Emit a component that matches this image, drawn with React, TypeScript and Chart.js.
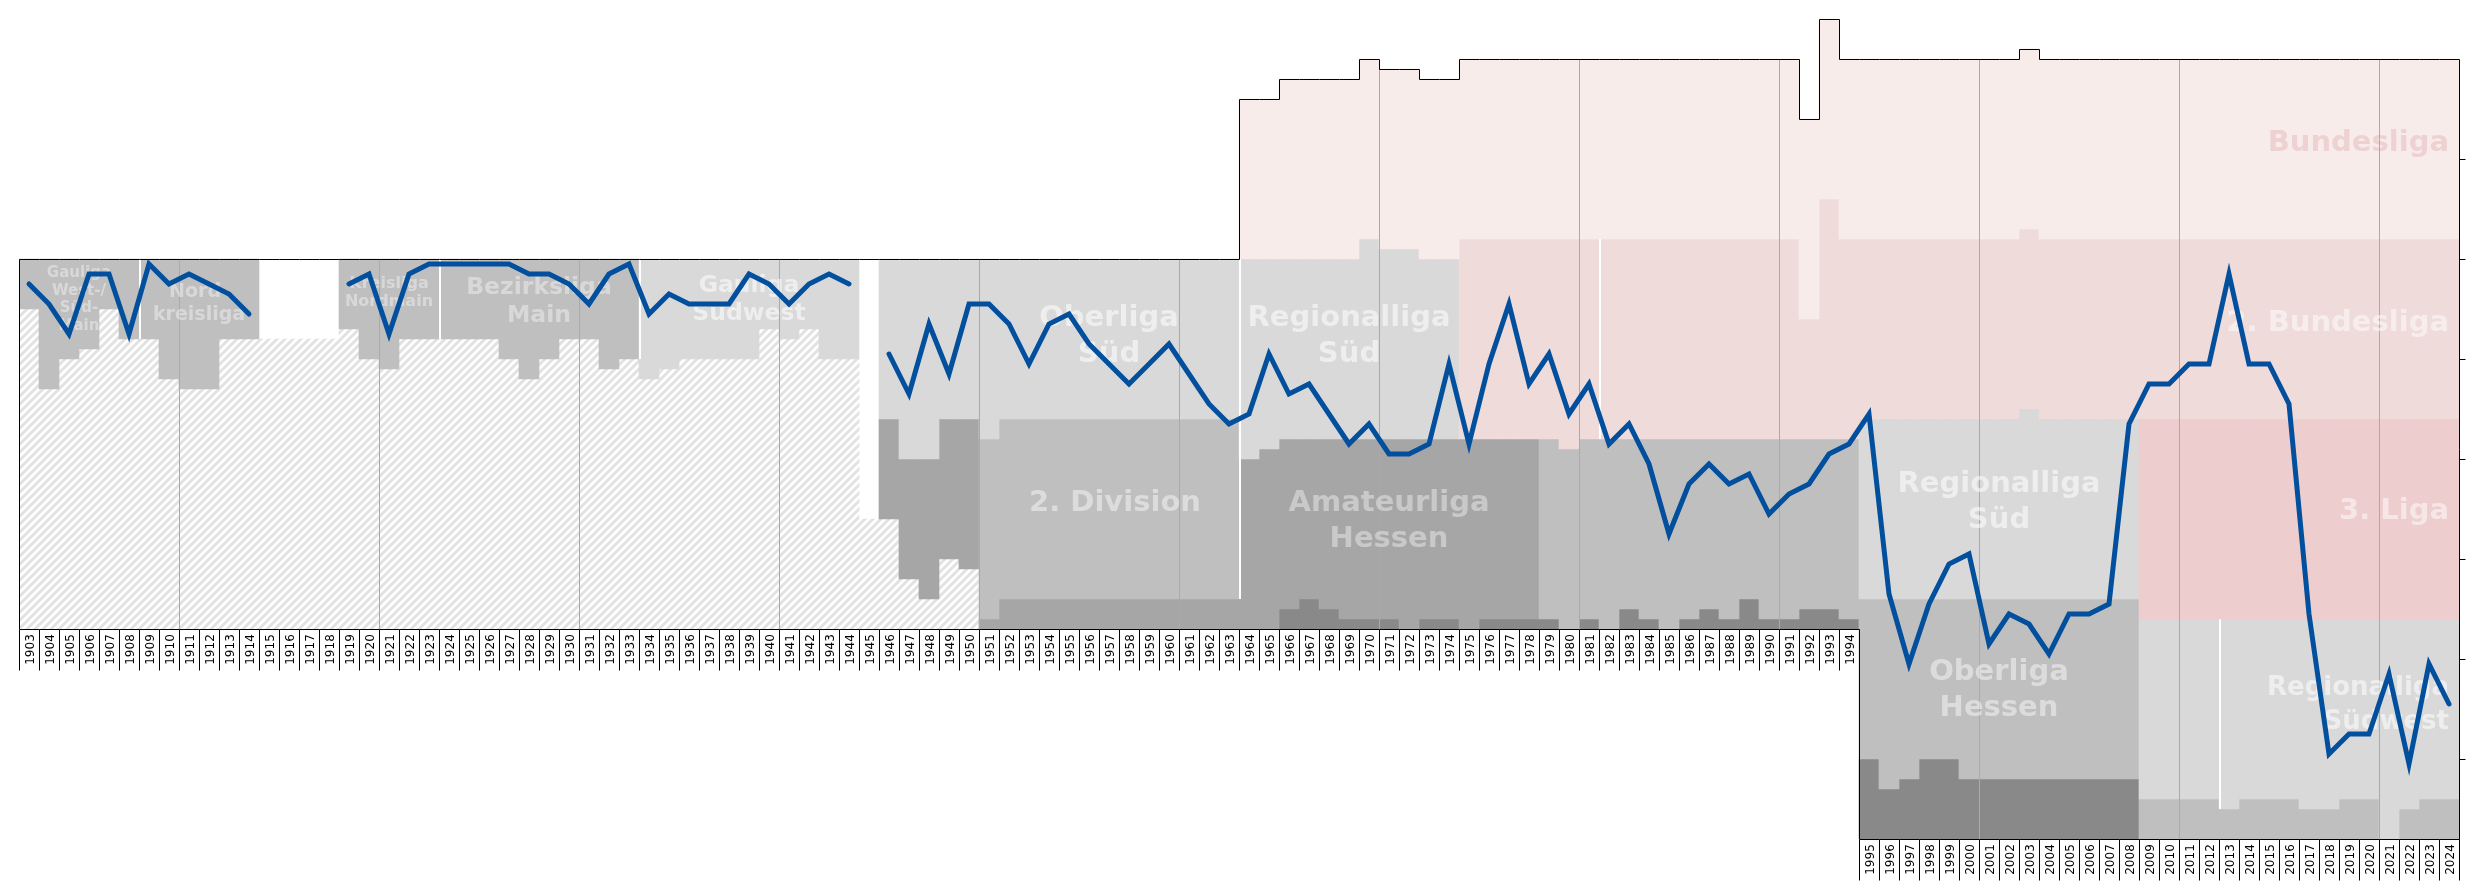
import React, { useEffect, useRef } from 'react';
import { Chart, registerables } from 'chart.js';

Chart.register(...registerables);

const N = null;

// Seasons (x categories)
const years = [
  1903, 1904, 1905, 1906, 1907, 1908, 1909, 1910, 1911, 1912,
  1913, 1914, 1915, 1916, 1917, 1918, 1919, 1920, 1921, 1922,
  1923, 1924, 1925, 1926, 1927, 1928, 1929, 1930, 1931, 1932,
  1933, 1934, 1935, 1936, 1937, 1938, 1939, 1940, 1941, 1942,
  1943, 1944, 1945, 1946, 1947, 1948, 1949, 1950, 1951, 1952,
  1953, 1954, 1955, 1956, 1957, 1958, 1959, 1960, 1961, 1962,
  1963, 1964, 1965, 1966, 1967, 1968, 1969, 1970, 1971, 1972,
  1973, 1974, 1975, 1976, 1977, 1978, 1979, 1980, 1981, 1982,
  1983, 1984, 1985, 1986, 1987, 1988, 1989, 1990, 1991, 1992,
  1993, 1994, 1995, 1996, 1997, 1998, 1999, 2000, 2001, 2002,
  2003, 2004, 2005, 2006, 2007, 2008, 2009, 2010, 2011, 2012,
  2013, 2014, 2015, 2016, 2017, 2018, 2019, 2020, 2021, 2022,
  2023, 2024,
];

// Overall league position (blue line)
const position = [
  22.5, 24.5, 27.5, 21.5, 21.5, 27.5, 20.5, 22.5, 21.5, 22.5,
  23.5, 25.5, N, N, N, N, 22.5, 21.5, 27.5, 21.5,
  20.5, 20.5, 20.5, 20.5, 20.5, 21.5, 21.5, 22.5, 24.5, 21.5,
  20.5, 25.5, 23.5, 24.5, 24.5, 24.5, 21.5, 22.5, 24.5, 22.5,
  21.5, 22.5, N, 29.5, 33.5, 26.5, 31.5, 24.5, 24.5, 26.5,
  30.5, 26.5, 25.5, 28.5, 30.5, 32.5, 30.5, 28.5, 31.5, 34.5,
  36.5, 35.5, 29.5, 33.5, 32.5, 35.5, 38.5, 36.5, 39.5, 39.5,
  38.5, 30.5, 38.5, 30.5, 24.5, 32.5, 29.5, 35.5, 32.5, 38.5,
  36.5, 40.5, 47.5, 42.5, 40.5, 42.5, 41.5, 45.5, 43.5, 42.5,
  39.5, 38.5, 35.5, 53.5, 60.5, 54.5, 50.5, 49.5, 58.5, 55.5,
  56.5, 59.5, 55.5, 55.5, 54.5, 36.5, 32.5, 32.5, 30.5, 30.5,
  21.5, 30.5, 30.5, 34.5, 55.5, 69.5, 67.5, 67.5, 61.5, 70.5,
  60.5, 64.5,
];

// Top of the highest league band per season
const bandTop = [
  20, 20, 20, 20, 20, 20, 20, 20, 20, 20,
  20, 20, 20, 20, 20, 20, 20, 20, 20, 20,
  20, 20, 20, 20, 20, 20, 20, 20, 20, 20,
  20, 20, 20, 20, 20, 20, 20, 20, 20, 20,
  20, 20, 20, 20, 20, 20, 20, 20, 20, 20,
  20, 20, 20, 20, 20, 20, 20, 20, 20, 20,
  20, 4, 4, 2, 2, 2, 2, 0, 1, 1,
  2, 2, 0, 0, 0, 0, 0, 0, 0, 0,
  0, 0, 0, 0, 0, 0, 0, 0, 0, 6,
  -4, 0, 0, 0, 0, 0, 0, 0, 0, 0,
  -1, 0, 0, 0, 0, 0, 0, 0, 0, 0,
  0, 0, 0, 0, 0, 0, 0, 0, 0, 0,
  0, 0,
];

// Bottom of each tier band per season
const tier1Bottom = [
  25, 33, 30, 29, 25, 28, 28, 32, 33, 33,
  28, 28, 28, 28, 28, 28, 27, 30, 31, 28,
  28, 28, 28, 28, 30, 32, 30, 28, 28, 31,
  30, 32, 31, 30, 30, 30, 30, 27, 28, 27,
  30, 30, 46, 36, 40, 40, 36, 36, 38, 36,
  36, 36, 36, 36, 36, 36, 36, 36, 36, 36,
  36, 20, 20, 20, 20, 20, 20, 18, 19, 19,
  20, 20, 18, 18, 18, 18, 18, 18, 18, 18,
  18, 18, 18, 18, 18, 18, 18, 18, 18, 26,
  14, 18, 18, 18, 18, 18, 18, 18, 18, 18,
  17, 18, 18, 18, 18, 18, 18, 18, 18, 18,
  18, 18, 18, 18, 18, 18, 18, 18, 18, 18,
  18, 18,
];

const tier2Bottom = [
  57, 57, 57, 57, 57, 57, 57, 57, 57, 57,
  57, 57, 57, 57, 57, 57, 57, 57, 57, 57,
  57, 57, 57, 57, 57, 57, 57, 57, 57, 57,
  57, 57, 57, 57, 57, 57, 57, 57, 57, 57,
  57, 57, 57, 46, 52, 54, 50, 51, 56, 54,
  54, 54, 54, 54, 54, 54, 54, 54, 54, 54,
  54, 40, 39, 38, 38, 38, 38, 38, 38, 38,
  38, 38, 38, 38, 38, 38, 38, 39, 38, 38,
  38, 38, 38, 38, 38, 38, 38, 38, 38, 38,
  38, 38, 36, 36, 36, 36, 36, 36, 36, 36,
  35, 36, 36, 36, 36, 36, 36, 36, 36, 36,
  36, 36, 36, 36, 36, 36, 36, 36, 36, 36,
  36, 36,
];

const tier3Bottom = [
  N, N, N, N, N, N, N, N, N, N,
  N, N, N, N, N, N, N, N, N, N,
  N, N, N, N, N, N, N, N, N, N,
  N, N, N, N, N, N, N, N, N, N,
  N, N, N, 57, 57, 57, 57, 57, 57, 57,
  57, 57, 57, 57, 57, 57, 57, 57, 57, 57,
  57, 57, 57, 55, 54, 55, 56, 56, 56, 57,
  56, 56, 57, 56, 56, 56, 56, 57, 56, 57,
  55, 56, 57, 56, 55, 56, 54, 56, 56, 55,
  55, 56, 54, 54, 54, 54, 54, 54, 54, 54,
  54, 54, 54, 54, 54, 54, 56, 56, 56, 56,
  56, 56, 56, 56, 56, 56, 56, 56, 56, 56,
  56, 56,
];

const tier4Bottom = [
  N, N, N, N, N, N, N, N, N, N,
  N, N, N, N, N, N, N, N, N, N,
  N, N, N, N, N, N, N, N, N, N,
  N, N, N, N, N, N, N, N, N, N,
  N, N, N, N, N, N, N, N, N, N,
  N, N, N, N, N, N, N, N, N, N,
  N, N, N, 57, 57, 57, 57, 57, 57, N,
  57, 57, N, 57, 57, 57, 57, N, 57, N,
  57, 57, N, 57, 57, 57, 57, 57, 57, 57,
  57, 57, 70, 73, 72, 70, 70, 72, 72, 72,
  72, 72, 72, 72, 72, 72, 74, 74, 74, 74,
  75, 74, 74, 74, 75, 75, 74, 74, 78, 75,
  74, 74,
];

const tier5Bottom = [
  N, N, N, N, N, N, N, N, N, N,
  N, N, N, N, N, N, N, N, N, N,
  N, N, N, N, N, N, N, N, N, N,
  N, N, N, N, N, N, N, N, N, N,
  N, N, N, N, N, N, N, N, N, N,
  N, N, N, N, N, N, N, N, N, N,
  N, N, N, N, N, N, N, N, N, N,
  N, N, N, N, N, N, N, N, N, N,
  N, N, N, N, N, N, N, N, N, N,
  N, N, 78, 78, 78, 78, 78, 78, 78, 78,
  78, 78, 78, 78, 78, 78, 78, 78, 78, 78,
  78, 78, 78, 78, 78, 78, 78, 78, N, 78,
  78, 78,
];

// League colour keys for each tier, by season span
const tier1Leagues = [[1903, 1914, 'G2'], [1915, 1918, 'none'], [1919, 1933, 'G2'], [1934, 1944, 'G1'], [1945, 1945, 'none'], [1946, 1963, 'G1'], [1964, 2024, 'BL']];
const tier2Leagues = [[1903, 1945, 'H'], [1946, 1950, 'G3'], [1951, 1963, 'G2'], [1964, 1974, 'G1'], [1975, 2024, 'BL2']];
const tier3Leagues = [[1946, 1950, 'H'], [1951, 1978, 'G3'], [1979, 1994, 'G2'], [1995, 2008, 'G1'], [2009, 2024, 'L3']];
const tier4Leagues = [[1964, 1994, 'G4'], [1995, 2008, 'G2'], [2009, 2024, 'G1']];
const tier5Leagues = [[1995, 2008, 'G4'], [2009, 2024, 'G2']];

const gridYears = [1911, 1921, 1931, 1941, 1951, 1961, 1971, 1981, 1991, 2001, 2011, 2021];
const yTicks = [10, 20, 30, 40, 50, 60, 70];

const separators = [
  { year: 1909, from: 20, to: 28 },
  { year: 1924, from: 20, to: 28 },
  { year: 1934, from: 20, to: 30 },
  { year: 1964, from: 20, to: 54 },
  { year: 1982, from: 18, to: 38 },
  { year: 2013, from: 56, to: 75 },
];

const leagueLabels = [
  { lines: ['Gauliga', 'West-/', 'Süd-', 'Main'], year: 1905.5, base: 21.8, step: 1.77, size: 15, align: 'center', alpha: 0.4 },
  { lines: ['Nord-', 'kreisliga'], year: 1911.5, base: 23.8, step: 2.33, size: 19, align: 'center', alpha: 0.4 },
  { lines: ['Kreisliga', 'Nordmain'], year: 1921, base: 22.85, step: 1.8, size: 16, align: 'center', alpha: 0.4 },
  { lines: ['Bezirksliga', 'Main'], year: 1928.5, base: 23.45, step: 2.84, size: 23.5, align: 'center', alpha: 0.4 },
  { lines: ['Gauliga', 'Südwest'], year: 1939, base: 23.3, step: 2.83, size: 23.5, align: 'center', alpha: 0.55 },
  { lines: ['Oberliga', 'Süd'], year: 1957, base: 26.7, step: 3.55, size: 29, align: 'center', alpha: 0.55 },
  { lines: ['2. Division'], year: 1957.3, base: 45.2, step: 3.55, size: 29, align: 'center', alpha: 0.45 },
  { lines: ['Regionalliga', 'Süd'], year: 1969, base: 26.7, step: 3.6, size: 29, align: 'center', alpha: 0.55 },
  { lines: ['Amateurliga', 'Hessen'], year: 1971, base: 45.2, step: 3.55, size: 29, align: 'center', alpha: 0.4 },
  { lines: ['Regionalliga', 'Süd'], year: 2001.5, base: 43.25, step: 3.62, size: 29, align: 'center', alpha: 0.55 },
  { lines: ['Oberliga', 'Hessen'], year: 2001.5, base: 62.05, step: 3.65, size: 29, align: 'center', alpha: 0.45 },
  { lines: ['Bundesliga'], year: 2024, base: 9.2, step: 3.5, size: 29, align: 'right', color: 'rgba(222,160,160,0.35)' },
  { lines: ['2. Bundesliga'], year: 2024, base: 27.2, step: 3.5, size: 29, align: 'right', alpha: 0.5 },
  { lines: ['3. Liga'], year: 2024, base: 46.0, step: 3.5, size: 29, align: 'right', alpha: 0.5 },
  { lines: ['Regionalliga', 'Südwest'], year: 2024, base: 63.6, step: 3.4, size: 26, align: 'right', alpha: 0.55 },
];

const palette: any = {
  G1: '#d9d9d9',
  G2: '#bfbfbf',
  G3: '#a6a6a6',
  G4: '#898989',
  BL: '#f8eceb',
  BL2: '#f0dbdb',
  L3: '#edcdcd',
  none: 'rgba(0,0,0,0)',
};
const LINE_COLOR = '#024f9d';

function makeHatch(): any {
  const c = document.createElement('canvas');
  c.width = 8;
  c.height = 8;
  const g = c.getContext('2d')!;
  g.fillStyle = '#ffffff';
  g.fillRect(0, 0, 8, 8);
  g.strokeStyle = '#e2e2e2';
  g.lineWidth = 3;
  g.beginPath();
  g.moveTo(0, 8); g.lineTo(8, 0);
  g.moveTo(-4, 4); g.lineTo(4, -4);
  g.moveTo(4, 12); g.lineTo(12, 4);
  g.stroke();
  return g.createPattern(c, 'repeat');
}

function spanKey(spans: any[], year: number) {
  for (const s of spans) if (year >= s[0] && year <= s[1]) return s[2];
  return 'none';
}

const tierBottoms = [tier1Bottom, tier2Bottom, tier3Bottom, tier4Bottom, tier5Bottom];
const tierLeagues = [tier1Leagues, tier2Leagues, tier3Leagues, tier4Leagues, tier5Leagues];

function floorOf(i: number) {
  let f = 0;
  for (const b of tierBottoms) if (b[i] != null && (b[i] as number) > f) f = b[i] as number;
  return f;
}

const decor = {
  id: 'decor',
  beforeDatasetDraw(chart: any, args: any) {
    if (args.index !== 0) return;
    const ctx = chart.ctx;
    const xs = chart.scales.x;
    const ys = chart.scales.y;
    const half = (xs.getPixelForValue(1) - xs.getPixelForValue(0)) / 2;
    const left = (i: number) => Math.round(xs.getPixelForValue(i) - half);
    ctx.save();
    // decade grid lines
    ctx.strokeStyle = '#aaaaaa';
    ctx.lineWidth = 1;
    gridYears.forEach((yr) => {
      const i = years.indexOf(yr);
      const x = left(i) + 0.5;
      ctx.beginPath();
      ctx.moveTo(x, ys.getPixelForValue(bandTop[i]));
      ctx.lineTo(x, ys.getPixelForValue(floorOf(i)));
      ctx.stroke();
    });
    // white league separators
    ctx.fillStyle = '#ffffff';
    separators.forEach((s) => {
      const i = years.indexOf(s.year);
      const y1 = ys.getPixelForValue(s.from);
      const y2 = ys.getPixelForValue(s.to);
      ctx.fillRect(left(i), y1, 2, y2 - y1);
    });
    // league names
    ctx.textBaseline = 'alphabetic';
    leagueLabels.forEach((l: any) => {
      ctx.font = `bold ${l.size}px "DejaVu Sans"`;
      ctx.fillStyle = l.color || `rgba(255,255,255,${l.alpha})`;
      ctx.textAlign = l.align;
      const x = xs.getPixelForValue(l.year - years[0]);
      l.lines.forEach((t: string, j: number) => {
        ctx.fillText(t, x, ys.getPixelForValue(l.base + j * l.step));
      });
    });
    ctx.restore();
  },
  afterDraw(chart: any) {
    const ctx = chart.ctx;
    const xs = chart.scales.x;
    const ys = chart.scales.y;
    const half = (xs.getPixelForValue(1) - xs.getPixelForValue(0)) / 2;
    const left = (i: number) => Math.round(xs.getPixelForValue(i) - half) + 0.5;
    const right = (i: number) => Math.round(xs.getPixelForValue(i) + half) + 0.5;
    const Y = (u: number) => Math.round(ys.getPixelForValue(u)) + 0.5;
    const n = years.length;
    ctx.save();
    ctx.strokeStyle = '#000000';
    ctx.lineWidth = 1;
    // outline: top step line, borders and axis
    ctx.beginPath();
    ctx.moveTo(left(0), Y(floorOf(0)));
    for (let i = 0; i < n; i++) {
      ctx.lineTo(left(i), Y(bandTop[i]));
      ctx.lineTo(right(i), Y(bandTop[i]));
    }
    for (let i = n - 1; i >= 0; i--) {
      ctx.lineTo(right(i), Y(floorOf(i)));
      ctx.lineTo(left(i), Y(floorOf(i)));
    }
    ctx.closePath();
    ctx.stroke();
    // year boxes
    ctx.beginPath();
    for (let i = 0; i < n; i++) {
      const y0 = Y(floorOf(i));
      ctx.moveTo(left(i), y0);
      ctx.lineTo(left(i), y0 + 41);
      if (i === n - 1) {
        ctx.moveTo(right(i), y0);
        ctx.lineTo(right(i), y0 + 41);
      }
    }
    ctx.stroke();
    // right ticks
    ctx.beginPath();
    const xr = right(n - 1);
    yTicks.forEach((t) => {
      ctx.moveTo(xr, Y(t));
      ctx.lineTo(xr + 6, Y(t));
    });
    ctx.stroke();
    // year labels
    ctx.fillStyle = '#000000';
    ctx.font = '12px "DejaVu Sans"';
    ctx.textAlign = 'center';
    ctx.textBaseline = 'alphabetic';
    for (let i = 0; i < n; i++) {
      const cx = xs.getPixelForValue(i);
      const y0 = ys.getPixelForValue(floorOf(i));
      ctx.save();
      ctx.translate(cx + 5, y0 + 20.5);
      ctx.rotate(-Math.PI / 2);
      ctx.fillText(String(years[i]), 0, 0);
      ctx.restore();
    }
    ctx.restore();
  },
};

export default function App() {
  const ref = useRef<HTMLCanvasElement>(null);
  useEffect(() => {
    document.body.style.margin = '0';
    const hatch = makeHatch();
    const bandSets = tierBottoms.map((bottoms, k) => {
      const tops = k === 0 ? bandTop : tierBottoms[k - 1];
      return {
        type: 'bar',
        label: 'tier' + (k + 1),
        data: years.map((_, i) => (tops[i] != null && bottoms[i] != null ? [tops[i], bottoms[i]] : null)),
        backgroundColor: years.map((yr) => {
          const key = spanKey(tierLeagues[k], yr);
          return key === 'H' ? hatch : palette[key];
        }),
        borderWidth: 0,
        barPercentage: 1,
        categoryPercentage: 1,
        grouped: false,
        order: k + 1,
      };
    });
    const lineSet = {
      type: 'line',
      label: 'Platz',
      data: position,
      borderColor: LINE_COLOR,
      borderWidth: 5,
      pointRadius: 0,
      spanGaps: false,
      tension: 0,
      order: 0,
      borderJoinStyle: 'miter',
      borderCapStyle: 'round',
    };
    const chart = new Chart(ref.current as HTMLCanvasElement, {
      type: 'bar',
      data: { labels: years.map(String), datasets: [lineSet, ...bandSets] as any },
      options: {
        animation: false,
        responsive: false,
        devicePixelRatio: 1,
        events: [],
        layout: { padding: { left: 19, right: 20, top: 9, bottom: 50 } },
        plugins: { legend: { display: false }, tooltip: { enabled: false } },
        scales: {
          x: { type: 'category', display: false, offset: true, grid: { offset: true } },
          y: { type: 'linear', display: false, reverse: true, min: -5, max: 78 },
        },
      } as any,
      plugins: [decor],
    });
    return () => chart.destroy();
  }, []);
  return <canvas ref={ref} width={2479} height={889} style={{ display: 'block' }} />;
}
